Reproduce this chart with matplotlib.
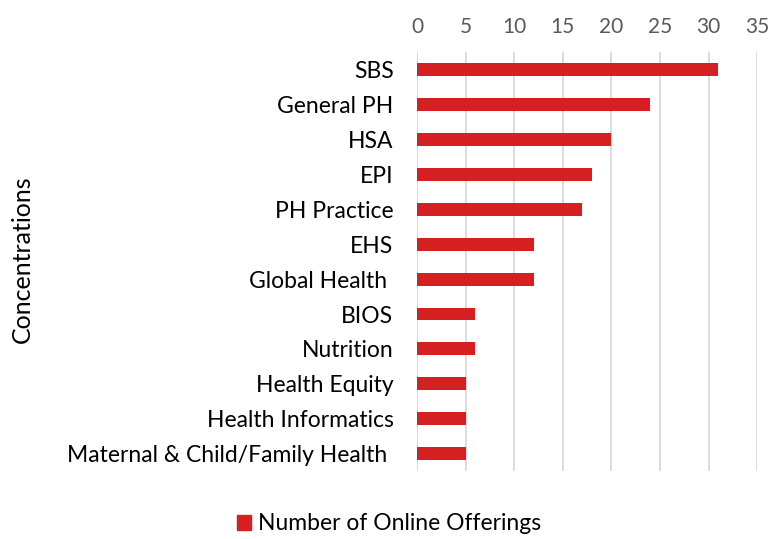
import matplotlib
matplotlib.use("Agg")
import matplotlib.pyplot as plt
from matplotlib.patches import Patch

plt.rcParams['font.family'] = ['Lato', 'DejaVu Sans']

categories = ["SBS", "General PH", "HSA", "EPI", "PH Practice", "EHS",
              "Global Health ", "BIOS", "Nutrition", "Health Equity",
              "Health Informatics", "Maternal & Child/Family Health "]
offerings = [31, 24, 20, 18, 17, 12, 12, 6, 6, 5, 5, 5]
xticks = [0, 5, 10, 15, 20, 25, 30, 35]

red = "#D42020"

fig = plt.figure(figsize=(7.71, 5.39), dpi=100)
ax = fig.add_axes([0.541, 0.126, 0.441, 0.777])

ypos = list(range(len(categories)))
ax.barh(ypos, offerings, height=0.37, color=red)
ax.set_yticks(ypos)
ax.set_yticklabels(categories, fontsize=16.5, color="black")
ax.set_ylim(len(categories) - 0.5, -0.5)

ax.set_xlim(0, 35)
ax.set_xticks(xticks)
ax.xaxis.tick_top()
ax.tick_params(axis="x", labelsize=15, labelcolor="#595959", length=0, pad=11)
ax.tick_params(axis="y", length=0, pad=17)
ax.grid(axis="x", color="#D9D9D9", linewidth=1.3)
ax.set_axisbelow(True)
for s in ax.spines.values():
    s.set_visible(False)

fig.text(0.029, 0.52, "Concentrations", rotation=90, fontsize=18,
         va="center", ha="center")

fig.legend(handles=[Patch(color=red, label="Number of Online Offerings")],
           loc="center", bbox_to_anchor=(0.505, 0.028), frameon=False,
           fontsize=16.5, handlelength=0.6, handleheight=0.6, handletextpad=0.3)

fig.savefig("out.png", dpi=100)
